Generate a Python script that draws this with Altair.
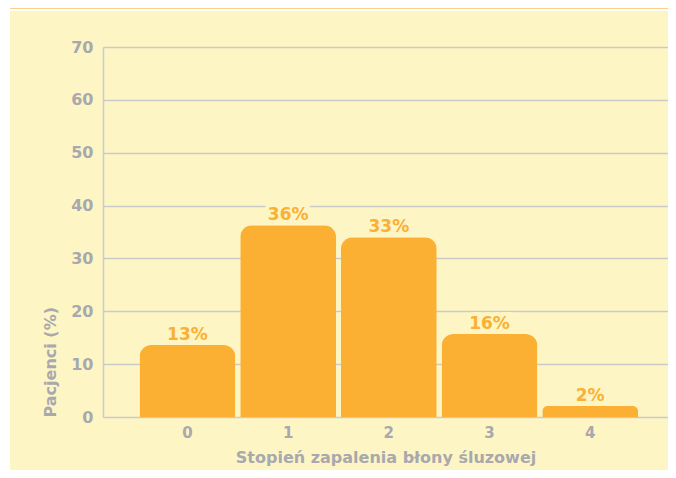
import altair as alt
import pandas as pd

categories = ["0", "1", "2", "3", "4"]
values = [13.6, 36.3, 34.0, 15.7, 2.1]
labels = ["13%", "36%", "33%", "16%", "2%"]

ORANGE = "#FBB034"
YELLOW = "#FDF5C4"
GRAY = "#A8A8AD"
GRID = "#CACACA"
FONT = "DejaVu Sans"

df = pd.DataFrame({"cat": categories, "val": values, "lab": labels})

x_enc = alt.X("cat:N", sort=categories,
              scale=alt.Scale(paddingInner=0.048, paddingOuter=0.33, align=0.55),
              axis=alt.Axis(title="Stopień zapalenia błony śluzowej", labelAngle=0,
                            labelFont=FONT, labelFontWeight="bold", labelFontSize=15,
                            labelColor=GRAY, labelPadding=8, ticks=False, domain=False,
                            titleFont=FONT, titleFontWeight="bold", titleFontSize=16,
                            titleColor=GRAY, titlePadding=9))
y_enc = alt.Y("val:Q", scale=alt.Scale(domain=[0, 70], nice=False),
              axis=alt.Axis(title="Pacjenci (%)", values=[0, 10, 20, 30, 40, 50, 60, 70],
                            labelFont=FONT, labelFontWeight="bold", labelFontSize=16,
                            labelColor=GRAY, labelPadding=10, ticks=False,
                            domain=True, domainColor=GRID, domainWidth=1.5,
                            grid=True, gridColor=GRID, gridWidth=1.5,
                            titleFont=FONT, titleFontWeight="bold", titleFontSize=16,
                            titleColor=GRAY, titlePadding=12, titleAnchor="start"))

base = alt.Chart(df)

bars = base.mark_bar(color=ORANGE, cornerRadiusEnd=12).encode(x=x_enc, y=y_enc)

text_bg = base.mark_text(baseline="alphabetic", dy=-5, font=FONT, fontWeight="bold", fontSize=17,
                         stroke=YELLOW, strokeWidth=8, fill=YELLOW).encode(
    x=alt.X("cat:N", sort=categories), y="val:Q", text="lab:N")

text = base.mark_text(baseline="alphabetic", dy=-5, font=FONT, fontWeight="bold", fontSize=17,
                      color=ORANGE).encode(
    x=alt.X("cat:N", sort=categories), y="val:Q", text="lab:N")

one = alt.Chart(alt.Data(values=[{"k": 1}]))
top_strip = one.mark_rect(color="white").encode(
    x=alt.value(-95), x2=alt.value(565), y=alt.value(-39), y2=alt.value(-36))
top_band = one.mark_rect(color=ORANGE, opacity=0.6).encode(
    x=alt.value(-95), x2=alt.value(565), y=alt.value(-39), y2=alt.value(-38))
left_strip = one.mark_rect(color="white").encode(
    x=alt.value(-95), x2=alt.value(-93), y=alt.value(-39), y2=alt.value(423))

chart = alt.layer(top_strip, top_band, left_strip, bars, text_bg, text).properties(
    width=565, height=370,
    padding={"left": 95, "top": 39, "right": 0, "bottom": 53},
    autosize=alt.AutoSizeParams(type="none"),
    background=YELLOW,
).configure_view(stroke=None)

chart.save("out.html", embed_options={"renderer": "svg", "actions": False})
